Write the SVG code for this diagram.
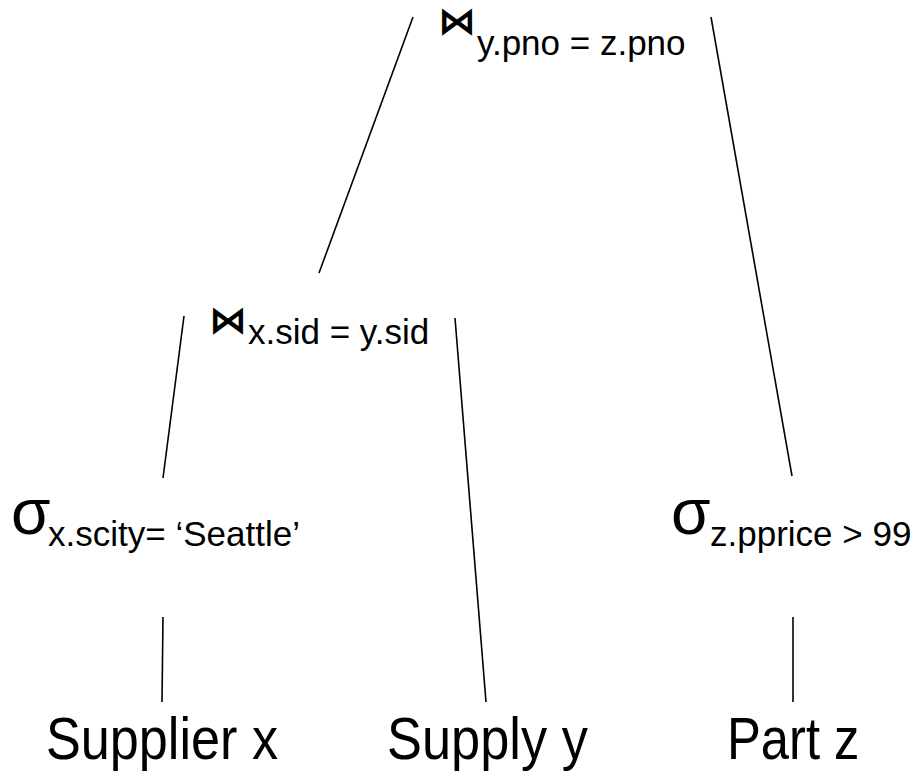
<svg xmlns="http://www.w3.org/2000/svg" width="915" height="773" viewBox="0 0 915 773">
  <style>
    .edge { stroke: #000; stroke-width: 1.6; fill: none; }
    .op { font-family: "DejaVu Sans", "Liberation Sans", sans-serif; font-weight: bold; font-size: 38px; fill: #000; }
    .sig { font-family: "Liberation Sans", "DejaVu Sans", sans-serif; font-size: 64px; fill: #000; }
    .sub { font-family: "Liberation Sans", Arial, sans-serif; font-size: 35px; fill: #000; }
    .rel { font-family: "Liberation Sans", Arial, sans-serif; font-size: 60px; fill: #000; }
  </style>
  <rect width="915" height="773" fill="#fff"/>

  <!-- tree edges -->
  <g id="connectors">
    <line class="edge" x1="413" y1="17" x2="319" y2="273"/>
    <line class="edge" x1="711" y1="17" x2="792" y2="476"/>
    <line class="edge" x1="184" y1="316" x2="163" y2="478"/>
    <line class="edge" x1="455" y1="318" x2="486" y2="702"/>
    <line class="edge" x1="163" y1="617" x2="162" y2="702"/>
    <line class="edge" x1="793" y1="617" x2="793" y2="702"/>
  </g>

  <!-- join on pno -->
  <g id="join-pno">
    <text class="op" x="438" y="34">⋈</text>
    <text class="sub" x="477" y="55">y.pno = z.pno</text>
  </g>

  <!-- join on sid -->
  <g id="join-sid">
    <text class="op" x="209" y="333">⋈</text>
    <text class="sub" x="248" y="344">x.sid = y.sid</text>
  </g>

  <!-- selection on supplier city -->
  <g id="select-city">
    <text class="sig" x="11" y="534">σ</text>
    <text class="sub" x="48" y="546">x.scity= ‘Seattle’</text>
  </g>

  <!-- selection on part price -->
  <g id="select-price">
    <text class="sig" x="671" y="534">σ</text>
    <text class="sub" x="710" y="546">z.pprice &gt; 99</text>
  </g>

  <!-- base relations, set in a narrowed face -->
  <g id="supplier">
    <text class="rel" transform="translate(46,759) scale(0.87,1)">Supplier x</text>
  </g>
  <g id="supply">
    <text class="rel" transform="translate(387,759) scale(0.873,1)">Supply y</text>
  </g>
  <g id="part">
    <text class="rel" transform="translate(727,759) scale(0.845,1)">Part z</text>
  </g>
</svg>
